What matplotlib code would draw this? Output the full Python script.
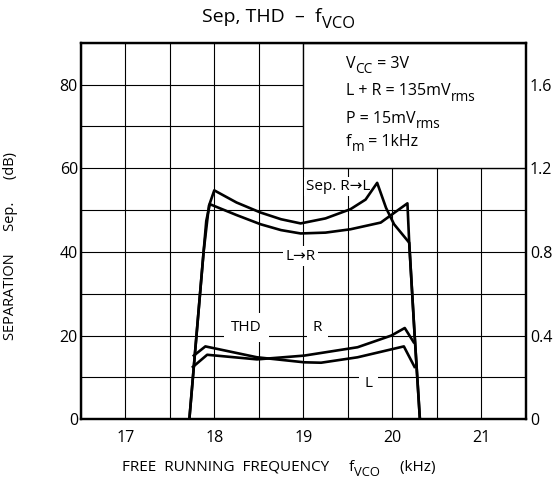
import numpy as np
import matplotlib.pyplot as plt
from matplotlib.patches import Rectangle
from matplotlib.transforms import IdentityTransform

plt.rcParams['font.family'] = ['Open Sans', 'DejaVu Sans']

# separation curves (dB), left axis
sep_rl_x = [17.72, 17.80, 17.88, 17.94, 18.00, 18.25, 18.52, 18.75, 18.97, 19.25,
            19.53, 19.70, 19.83, 19.93, 20.02, 20.19, 20.25, 20.31]
sep_rl_y = [0, 20, 40, 51, 54.7, 51.8, 49.4, 47.8, 46.8, 48.0,
            50.2, 52.5, 56.5, 50.5, 46.6, 42.2, 20.4, 0]

sep_lr_x = [17.72, 17.80, 17.88, 17.91, 17.95, 18.25, 18.52, 18.75, 18.97, 19.25,
            19.53, 19.87, 20.00, 20.17, 20.19, 20.25, 20.31]
sep_lr_y = [0, 20, 40, 47.4, 51.4, 48.8, 46.6, 45.2, 44.4, 44.6,
            45.4, 47.0, 49.0, 51.6, 42.2, 20.4, 0]

# THD curves (%), right axis
thd_r_x = [17.76, 17.92, 18.48, 19.01, 19.61, 19.99, 20.14, 20.24]
thd_r_y = [0.25, 0.308, 0.286, 0.304, 0.344, 0.40, 0.436, 0.368]

thd_l_x = [17.77, 17.90, 18.48, 19.01, 19.20, 19.61, 20.13, 20.25]
thd_l_y = [0.304, 0.348, 0.296, 0.272, 0.27, 0.296, 0.348, 0.25]

x_ticks = [17, 18, 19, 20, 21]
sep_ticks = [0, 20, 40, 60, 80]
thd_ticks = [0, 0.4, 0.8, 1.2, 1.6]
thd_ticklabels = ['0', '0.4', '0.8', '1.2', '1.6']

# (text, is_subscript) pieces
conditions = [[('V', 0), ('CC', 1), (' = 3V', 0)],
              [('L + R = 135mV', 0), ('rms', 1)],
              [('P = 15mV', 0), ('rms', 1)],
              [('f', 0), ('m', 1), (' = 1kHz', 0)]]
condition_y = [84.0, 77.4, 70.8, 65.4]
title_parts = [('Sep, THD  \u2013  f', 0), ('VCO', 1)]
xlabel_parts = [('FREE  RUNNING  FREQUENCY     f', 0), ('VCO', 1), ('     (kHz)', 0)]

fig = plt.figure(figsize=(5.57, 4.88), dpi=100)
ax = fig.add_axes([0.145, 0.141, 0.799, 0.7715])
renderer = fig.canvas.get_renderer()


def sub_text(x, y, parts, size, transform, ha='left', zorder=4):
    # draw text with full-ish size subscripts, piece by piece
    widths = []
    for s, sub in parts:
        t = fig.text(0, 0, s.replace(' ', '\u00a0'), fontsize=size * (0.85 if sub else 1))
        widths.append(t.get_window_extent(renderer).width)
        t.remove()
    x0, y0 = transform.transform((x, y))
    if ha == 'center':
        x0 -= sum(widths) / 2
    for (s, sub), w in zip(parts, widths):
        dy = -size * 0.32 * fig.dpi / 72 if sub else 0
        fig.text(x0, y0 + dy, s.replace(' ', '\u00a0'), fontsize=size * (0.85 if sub else 1),
                 va='baseline', ha='left', transform=IdentityTransform(), zorder=zorder)
        x0 += w


ax.set_xlim(16.5, 21.5)
ax.set_ylim(0, 90)
ax.set_xticks(x_ticks)
ax.set_xticks(np.arange(16.5, 21.6, 0.5), minor=True)
ax.set_yticks(sep_ticks)
ax.set_yticks(np.arange(0, 91, 10), minor=True)
ax.set_axisbelow(True)
ax.grid(True, which='both', color='black', linewidth=0.8)
ax.tick_params(axis='both', which='both', length=0, labelsize=11.5, pad=2)
ax.tick_params(axis='x', pad=8)
for sp in ax.spines.values():
    sp.set_linewidth(1.6)

ax.plot(sep_rl_x, sep_rl_y, color='black', lw=1.9, zorder=3)
ax.plot(sep_lr_x, sep_lr_y, color='black', lw=1.9, zorder=3)

# conditions box
ax.add_patch(Rectangle((19, 60), 2.5, 30, facecolor='white', edgecolor='black',
                       lw=1.0, zorder=2))

lbl = dict(facecolor='white', edgecolor='none', pad=1.5)
ax.text(19.39, 55.7, 'Sep. R\u2192L', fontsize=11, ha='center', va='center', bbox=lbl, zorder=2.5)
ax.text(18.97, 39.0, 'L\u2192R', fontsize=11, ha='center', va='center', bbox=lbl, zorder=2.5)
ax.text(18.36, 21.9, 'THD', fontsize=11, ha='center', va='center',
        bbox=dict(facecolor='white', edgecolor='none', pad=5), zorder=2.5)
ax.text(19.16, 21.9, 'R', fontsize=11, ha='center', va='center',
        bbox=dict(facecolor='white', edgecolor='none', pad=4), zorder=2.5)
ax.text(19.73, 8.6, 'L', fontsize=11, ha='center', va='center',
        bbox=dict(facecolor='white', edgecolor='none', pad=4), zorder=2.5)

ax2 = ax.twinx()
ax2.set_ylim(0, 1.8)
ax2.set_yticks(thd_ticks)
ax2.set_yticklabels(thd_ticklabels)
ax2.tick_params(axis='y', length=0, labelsize=11.5, pad=3)
for sp in ax2.spines.values():
    sp.set_linewidth(1.6)
ax2.plot(thd_r_x, thd_r_y, color='black', lw=1.9)
ax2.plot(thd_l_x, thd_l_y, color='black', lw=1.9)

for parts, cy in zip(conditions, condition_y):
    sub_text(19.48, cy, parts, 11.5, ax.transData)

sub_text(0.5, 0.955, title_parts, 14, fig.transFigure, ha='center')
sub_text(0.5, 0.035, xlabel_parts, 11, fig.transFigure, ha='center')
ax.set_ylabel('SEPARATION      Sep.      (dB)', fontsize=10.5)
ax.yaxis.set_label_coords(-0.142, 0.46)

fig.savefig('out.png', dpi=100)
